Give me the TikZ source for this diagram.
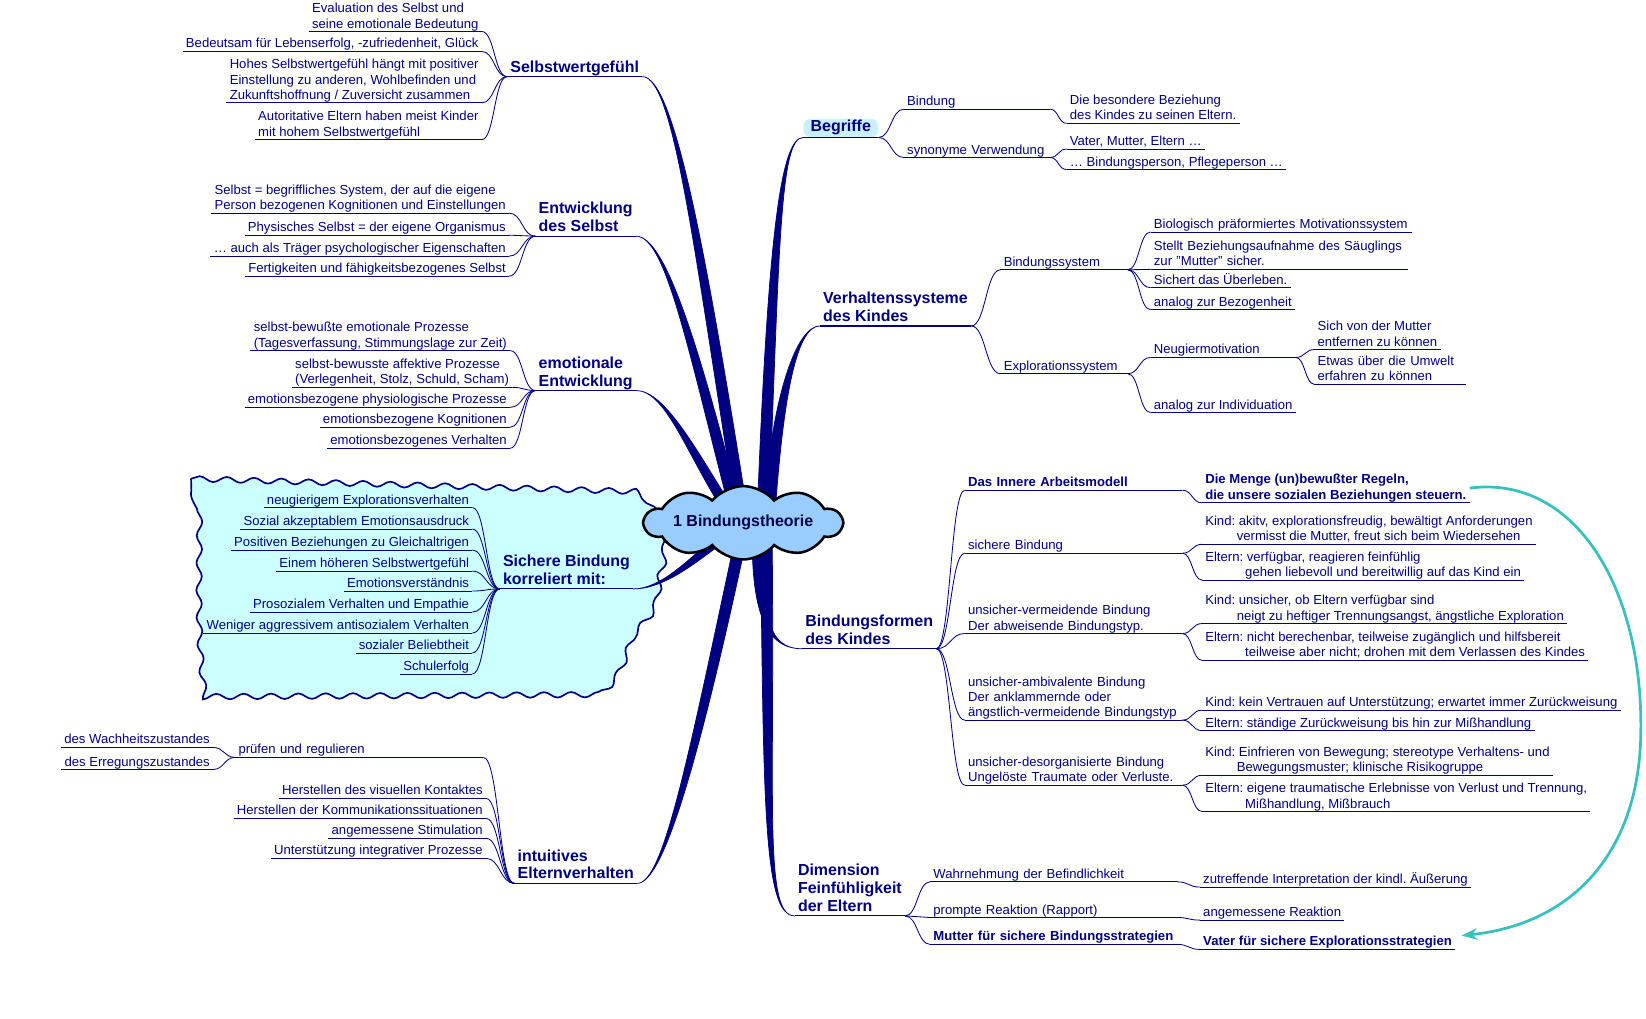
\documentclass[tikz,border=0pt]{standalone}
\usepackage{fontspec}
\setmainfont{Liberation Sans}
\usepackage{xcolor}
\usepackage{tikz}
\usetikzlibrary{calc, arrows.meta, shapes.symbols, decorations.pathmorphing}
\frenchspacing

\definecolor{inkblue}{RGB}{0,0,128}
\definecolor{rootblue}{RGB}{153,204,255}
\definecolor{paleblue}{RGB}{204,255,255}
\definecolor{tagcyan}{RGB}{200,240,255}
\definecolor{linkteal}{RGB}{56,192,192}

\newcommand{\leaffont}{\fontsize{12.5}{14.5}\selectfont}
\newcommand{\keyfont}{\fontsize{12.5}{15}\selectfont\bfseries}
\newcommand{\topicfont}{\fontsize{15.2}{17}\selectfont\bfseries}

% tapered main branch: [shift]{start}{start ctrl}{trunk end}{end ctrl}
\newcommand{\bough}[5][xshift]{%
  \filldraw[inkblue, line width=0.7pt] (#2) .. controls +(#3) and +(#5) .. ([#1=-5.5pt]#4)
    -- ([#1=5.5pt]#4) .. controls +(#5) and +(#3) .. (#2);}

\begin{document}
\begin{tikzpicture}[x=1pt, y=-1pt,
  leaf/.style={text=inkblue, font=\leaffont, align=left, inner xsep=3pt, inner ysep=0.5pt,
    execute at end node={\rule[-2.6pt]{0pt}{0pt}}},
  keyleaf/.style={leaf, font=\keyfont},
  topic/.style={text=inkblue, font=\topicfont, align=left, inner xsep=3pt, inner ysep=0.5pt,
    execute at end node={\rule[-3.6pt]{0pt}{0pt}}},
  twig/.style={inkblue, line width=0.8pt},
  scurve/.style={to path={let \p1=(\tikztostart), \p2=(\tikztotarget), \n1={0.5*\x1+0.5*\x2} in
    .. controls (\n1,\y1) and (\n1,\y2) .. (\tikztotarget)}},
  root/.style={cloud, cloud puffs=10, cloud puff arc=100, aspect=4.2, minimum width=188pt,
    minimum height=44pt, inner sep=0pt, draw=black, line width=2.4pt, fill=rootblue,
    font=\topicfont, text=inkblue!55!black}]
\useasboundingbox (0,0) rectangle (1568,970);

% wavy background of the "Sichere Bindung" group
\draw[inkblue, line width=1.6pt, fill=paleblue, decorate, decoration={snake, segment length=26pt, amplitude=2.6pt}]
  (182,456) -- (600,468) .. controls (622,478) and (632,515) .. (626,540)
  .. controls (620,556) and (628,578) .. (604,598) .. controls (590,612) and (594,640) .. (568,660)
  -- (188,662) .. controls (178,600) and (184,520) .. cycle;

% ---- left: Selbstwertgefuehl
\node[topic, anchor=south west] (sel) at (483,73) {Selbstwertgefühl};
\node[leaf, anchor=south east] (s1) at (459,30) {Evaluation des Selbst und\\seine emotionale Bedeutung};
\node[leaf, anchor=south east] (s2) at (459,49) {Bedeutsam für Lebenserfolg, -zufriedenheit, Glück};
\node[leaf, anchor=south east] (s3) at (459,98) {Hohes Selbstwertgefühl hängt mit positiver\\Einstellung zu anderen, Wohlbefinden und\\Zukunftshoffnung / Zuversicht zusammen};
\node[leaf, anchor=south east] (s4) at (459,133) {Autoritative Eltern haben meist Kinder\\mit hohem Selbstwertgefühl};

% ---- left: Entwicklung des Selbst
\node[topic, anchor=south west] (ent) at (510,225) {Entwicklung\\des Selbst};
\node[leaf, anchor=south east] (e1) at (485,203) {Selbst = begriffliches System, der auf die eigene\\Person bezogenen Kognitionen und Einstellungen};
\node[leaf, anchor=south east] (e2) at (485,224) {Physisches Selbst = der eigene Organismus};
\node[leaf, anchor=south east] (e3) at (485,244) {… auch als Träger psychologischer Eigenschaften};
\node[leaf, anchor=south east] (e4) at (485,263) {Fertigkeiten und fähigkeitsbezogenes Selbst};

% ---- left: emotionale Entwicklung
\node[topic, anchor=south west] (emo) at (510,372) {emotionale\\Entwicklung};
\node[leaf, anchor=south east] (m1) at (486,334) {selbst-bewußte emotionale Prozesse\\(Tagesverfassung, Stimmungslage zur Zeit)};
\node[leaf, anchor=south east] (m2) at (488,369) {selbst-bewusste affektive Prozesse\\(Verlegenheit, Stolz, Schuld, Scham)};
\node[leaf, anchor=south east] (m3) at (486,388) {emotionsbezogene physiologische Prozesse};
\node[leaf, anchor=south east] (m4) at (486,407) {emotionsbezogene Kognitionen};
\node[leaf, anchor=south east] (m5) at (486,427) {emotionsbezogenes Verhalten};

% ---- left: Sichere Bindung
\node[topic, anchor=south west] (sich) at (476,561) {Sichere Bindung\\korreliert mit:};
\foreach \yy/\txt [count=\i] in {483.5/neugierigem Explorationsverhalten, 504/Sozial akzeptablem Emotionsausdruck,
    524/Positiven Beziehungen zu Gleichaltrigen, 544/Einem höheren Selbstwertgefühl, 563/Emotionsverständnis,
    583/Prosozialem Verhalten und Empathie, 603/Weniger aggressivem antisozialem Verhalten,
    622/sozialer Beliebtheit, 642/Schulerfolg}
  \node[leaf, anchor=south east] (k\i) at (450,\yy) {\txt};

% ---- left: intuitives Elternverhalten
\node[topic, anchor=south west] (intu) at (490,841.5) {intuitives\\Elternverhalten};
\node[leaf, anchor=south west, text width=230pt] (pruef) at (224,721.5) {prüfen und regulieren};
\node[leaf, anchor=south east] (w1) at (203,712) {des Wachheitszustandes};
\node[leaf, anchor=south east] (w2) at (203,733) {des Erregungszustandes};
\node[leaf, anchor=south east] (i1) at (463,760.5) {Herstellen des visuellen Kontaktes};
\node[leaf, anchor=south east] (i2) at (463,779.6) {Herstellen der Kommunikationssituationen};
\node[leaf, anchor=south east] (i3) at (463,798.6) {angemessene Stimulation};
\node[leaf, anchor=south east] (i4) at (463,817.7) {Unterstützung integrativer Prozesse};

% ---- right: Begriffe
\node[topic, anchor=south west, fill=tagcyan, rounded corners=7pt, inner xsep=7pt, inner ysep=1.5pt] (begr) at (765,131) {Begriffe};
\node[leaf, anchor=south west, text width=133pt] (b1) at (861,104) {Bindung};
\node[leaf, anchor=south west, text width=133pt] (b2) at (861,150) {synonyme Verwendung};
\node[leaf, anchor=south west] (b11) at (1016,117.5) {Die besondere Beziehung\\des Kindes zu seinen Eltern.};
\node[leaf, anchor=south west] (b21) at (1016,142) {Vater, Mutter, Eltern …};
\node[leaf, anchor=south west] (b22) at (1016,161.5) {… Bindungsperson, Pflegeperson …};

% ---- right: Verhaltenssysteme
\node[topic, anchor=south west] (verh) at (781,310.5) {Verhaltenssysteme\\des Kindes};
\node[leaf, anchor=south west, text width=115pt] (bs) at (953,257) {Bindungssystem};
\node[leaf, anchor=south west, text width=115pt] (es) at (953,356) {Explorationssystem};
\node[leaf, anchor=south west, text width=243pt] (bio) at (1096,221) {Biologisch präformiertes Motivationssystem};
\node[leaf, anchor=south west, text width=239pt] (stellt) at (1096,256.6) {Stellt Beziehungsaufnahme des Säuglings\\zur "Mutter" sicher.};
\node[leaf, anchor=south west] (sichert) at (1096,274) {Sichert das Überleben.};
\node[leaf, anchor=south west] (bez) at (1096,295) {analog zur Bezogenheit};
\node[leaf, anchor=south west, text width=132pt] (neu) at (1096,340.5) {Neugiermotivation};
\node[leaf, anchor=south west] (indiv) at (1096,393) {analog zur Individuation};
\node[leaf, anchor=south west] (mutter) at (1252,333) {Sich von der Mutter\\entfernen zu können};
\node[leaf, anchor=south west, text width=138pt] (umwelt) at (1252,366) {Etwas über die Umwelt\\erfahren zu können};

% ---- right: Bindungsformen
\node[topic, anchor=south west] (bf) at (764,618) {Bindungsformen\\des Kindes};
\node[keyleaf, anchor=south west, text width=201pt] (iam) at (919,467) {Das Innere Arbeitsmodell};
\node[leaf, anchor=south west, text width=201pt] (sb) at (919,527) {sichere Bindung};
\node[leaf, anchor=south west, text width=201pt] (uv) at (919,603.5) {unsicher-vermeidende Bindung\\Der abweisende Bindungstyp.};
\node[leaf, anchor=south west, text width=201pt] (ua) at (919,686) {unsicher-ambivalente Bindung\\Der anklammernde oder\\ängstlich-vermeidende Bindungstyp};
\node[leaf, anchor=south west, text width=201pt] (ud) at (919,748) {unsicher-desorganisierte Bindung\\Ungelöste Traumate oder Verluste.};
\node[keyleaf, anchor=south west] (regeln) at (1145,479) {Die Menge (un)bewußter Regeln,\\die unsere sozialen Beziehungen steuern.};
\node[leaf, anchor=south west] (ka) at (1145,518.5) {Kind: akitv, explorationsfreudig, bewältigt Anforderungen\\\hspace*{30pt}vermisst die Mutter, freut sich beim Wiedersehen};
\node[leaf, anchor=south west] (ea) at (1145,552.5) {Eltern: verfügbar, reagieren feinfühlig\\\hspace*{38pt}gehen liebevoll und bereitwillig auf das Kind ein};
\node[leaf, anchor=south west] (ku) at (1145,594) {Kind: unsicher, ob Eltern verfügbar sind\\\hspace*{30pt}neigt zu heftiger Trennungsangst, ängstliche Exploration};
\node[leaf, anchor=south west] (eu) at (1145,629) {Eltern: nicht berechenbar, teilweise zugänglich und hilfsbereit\\\hspace*{38pt}teilweise aber nicht; drohen mit dem Verlassen des Kindes};
\node[leaf, anchor=south west] (kk) at (1145,676.5) {Kind: kein Vertrauen auf Unterstützung; erwartet immer Zurückweisung};
\node[leaf, anchor=south west] (ek) at (1145,696) {Eltern: ständige Zurückweisung bis hin zur Mißhandlung};
\node[leaf, anchor=south west] (kd) at (1145,738.5) {Kind: Einfrieren von Bewegung; stereotype Verhaltens- und\\\hspace*{30pt}Bewegungsmuster; klinische Risikogruppe};
\node[leaf, anchor=south west] (ed) at (1145,773) {Eltern: eigene traumatische Erlebnisse von Verlust und Trennung,\\\hspace*{38pt}Mißhandlung, Mißbrauch};

% ---- right: Dimension Feinfuehligkeit
\node[topic, anchor=south west] (dim) at (757,872.5) {Dimension\\Feinfühligkeit\\der Eltern};
\node[leaf, anchor=south west, text width=229pt] (wahr) at (886,840) {Wahrnehmung der Befindlichkeit};
\node[leaf, anchor=south west, text width=229pt] (prompt) at (886,874) {prompte Reaktion (Rapport)};
\node[keyleaf, anchor=south west, text width=229pt] (mutt) at (886,899.6) {Mutter für sichere Bindungsstrategien};
\node[leaf, anchor=south west] (zutr) at (1143,845) {zutreffende Interpretation der kindl. Äußerung};
\node[leaf, anchor=south west] (angem) at (1143,876.5) {angemessene Reaktion};
\node[keyleaf, anchor=south west] (vater) at (1143,904.4) {Vater für sichere Explorationsstrategien};

% underlines
\foreach \nd in {s1,s2,s3,s4,e1,e2,e3,e4,m1,m2,m3,m4,m5,k1,k2,k3,k4,k5,k6,k7,k8,k9,
    w1,w2,pruef,i1,i2,i3,i4,b1,b2,b11,b21,b22,bs,es,bio,stellt,sichert,bez,neu,indiv,mutter,umwelt,
    iam,sb,uv,ua,ud,regeln,ka,ea,ku,eu,kk,ek,kd,ed,wahr,prompt,mutt,zutr,angem,vater}
  \draw[twig] (\nd.south west) -- (\nd.south east);
\foreach \nd in {sel,ent,emo,sich,intu,begr,verh,bf,dim}
  \draw[twig, line width=1.1pt] (\nd.south west) -- (\nd.south east);

% twigs, left side
\foreach \nd in {s1,s2,s3,s4} \draw[twig] (\nd.south east) to[scurve] (sel.south west);
\foreach \nd in {e1,e2,e3,e4} \draw[twig] (\nd.south east) to[scurve] (ent.south west);
\foreach \nd in {m1,m2,m3,m4,m5} \draw[twig] (\nd.south east) to[scurve] (emo.south west);
\foreach \nd in {k1,k2,k3,k4,k5,k6,k7,k8,k9} \draw[twig] (\nd.south east) to[scurve] (sich.south west);
\foreach \nd in {w1,w2} \draw[twig] (\nd.south east) to[scurve] (pruef.south west);
\foreach \nd in {pruef,i1,i2,i3,i4} \draw[twig] (\nd.south east) to[scurve] (intu.south west);

% twigs, right side
\foreach \nd in {b1,b2} \draw[twig] (begr.south east) to[scurve] (\nd.south west);
\foreach \pa/\ch in {b1/b11,b2/b21,b2/b22,verh/bs,verh/es,bs/bio,bs/stellt,bs/sichert,bs/bez,
    es/neu,es/indiv,neu/mutter,neu/umwelt}
  \draw[twig] (\pa.south east) to[scurve] (\ch.south west);
\foreach \nd in {iam,sb,uv,ua,ud} \draw[twig] (bf.south east) to[scurve] (\nd.south west);
\foreach \pa/\ch in {iam/regeln,sb/ka,sb/ea,uv/ku,uv/eu,ua/kk,ua/ek,ud/kd,ud/ed}
  \draw[twig] (\pa.south east) to[scurve] (\ch.south west);
\foreach \nd in {wahr,prompt,mutt} \draw[twig] (dim.south east) to[scurve] (\nd.south west);
\foreach \pa/\ch in {wahr/zutr,prompt/angem,mutt/vater}
  \draw[twig] (\pa.south east) to[scurve] (\ch.south west);

% trunk ends under the root cloud
\coordinate (r1) at (706,484);
\coordinate (r2) at (700,484);
\coordinate (r3) at (694,486);
\coordinate (r4) at (688,512);
\coordinate (r5) at (706,512);
\coordinate (r6) at (727,484);
\coordinate (r7) at (733,486);
\coordinate (r8) at (722,512);
\coordinate (r9) at (730,512);

% tapered main branches
\bough{sel.south east}{30,0}{r1}{-40,-250}
\bough{ent.south east}{28,0}{r2}{-40,-155}
\bough{emo.south east}{28,0}{r3}{-35,-55}
\bough[yshift]{sich.south east}{30,0}{r4}{-25,18}
\bough{intu.south east}{25,0}{r5}{-45,210}
\bough{begr.south west}{-22,0}{r6}{10,-250}
\bough{verh.south west}{-22,0}{r7}{8,-110}
\bough{bf.south west}{-35,0}{r8}{0,70}
\bough{dim.south west}{-30,0}{r9}{3,250}

\node[root] (root) at (708,498) {1 Bindungstheorie};

% cross link
\draw[linkteal, line width=2.6pt, -{Stealth[length=15pt, width=11pt]}]
  (regeln.east) .. controls (1500,452) and (1566,560) .. (1563,700)
  .. controls (1561,810) and (1500,880) .. ([xshift=6pt]vater.north east);
\end{tikzpicture}
\end{document}
